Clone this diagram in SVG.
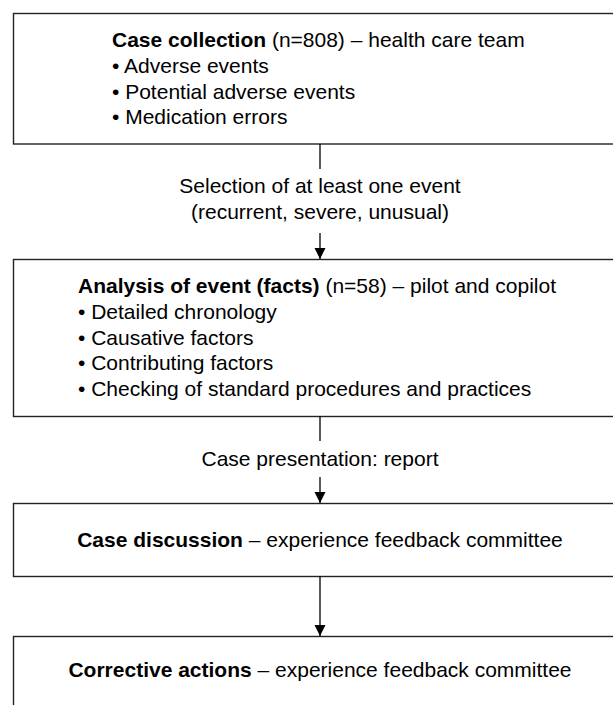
<svg xmlns="http://www.w3.org/2000/svg" width="613" height="705" viewBox="0 0 613 705">
<defs>
<marker id="arr" markerUnits="userSpaceOnUse" markerWidth="12" markerHeight="12" refX="11" refY="6" orient="auto" viewBox="0 0 12 12">
<path d="M0,0.5 L11,6 L0,11.5 Z" fill="#000"/>
</marker>
<style>
.box{fill:#fff;stroke:#222;stroke-width:1.4}
.ln{stroke:#000;stroke-width:1.3;fill:none}
text{font-family:"Liberation Sans",Arial,Helvetica,sans-serif;font-size:21px;fill:#000}
.b{font-weight:bold}
.c{text-anchor:middle}
</style>
</defs>
<rect x="0" y="0" width="613" height="705" fill="#fff"/>
<g id="node-collection">
<rect class="box" x="13.5" y="13.5" width="614" height="130.5"/>
<text x="112" y="47"><tspan class="b">Case collection</tspan> (n=808) – health care team</text>
<text x="112" y="73">• Adverse events</text>
<text x="112" y="99">• Potential adverse events</text>
<text x="112" y="124">• Medication errors</text>
</g>
<g id="node-analysis">
<rect class="box" x="13.5" y="259.5" width="614" height="157"/>
<text x="78" y="293"><tspan class="b">Analysis of event (facts)</tspan> (n=58) – pilot and copilot</text>
<text x="78" y="319">• Detailed chronology</text>
<text x="78" y="345">• Causative factors</text>
<text x="78" y="370">• Contributing factors</text>
<text x="78" y="396">• Checking of standard procedures and practices</text>
</g>
<g id="node-discussion">
<rect class="box" x="13.5" y="503.5" width="614" height="73"/>
<text class="c" x="320" y="547"><tspan class="b">Case discussion</tspan> – experience feedback committee</text>
</g>
<g id="node-corrective">
<rect class="box" x="13.5" y="636.5" width="614" height="73"/>
<text class="c" x="320" y="677"><tspan class="b">Corrective actions</tspan> – experience feedback committee</text>
</g>
<g id="connectors">
<line class="ln" x1="320" y1="144" x2="320" y2="169"/>
<text class="c" x="320" y="193">Selection of at least one event</text>
<text class="c" x="320" y="219">(recurrent, severe, unusual)</text>
<line class="ln" x1="320" y1="233" x2="320" y2="259" marker-end="url(#arr)"/>
<line class="ln" x1="320" y1="416" x2="320" y2="441"/>
<text class="c" x="320" y="466">Case presentation: report</text>
<line class="ln" x1="320" y1="477" x2="320" y2="503" marker-end="url(#arr)"/>
<line class="ln" x1="320" y1="576" x2="320" y2="636" marker-end="url(#arr)"/>
</g>
</svg>
